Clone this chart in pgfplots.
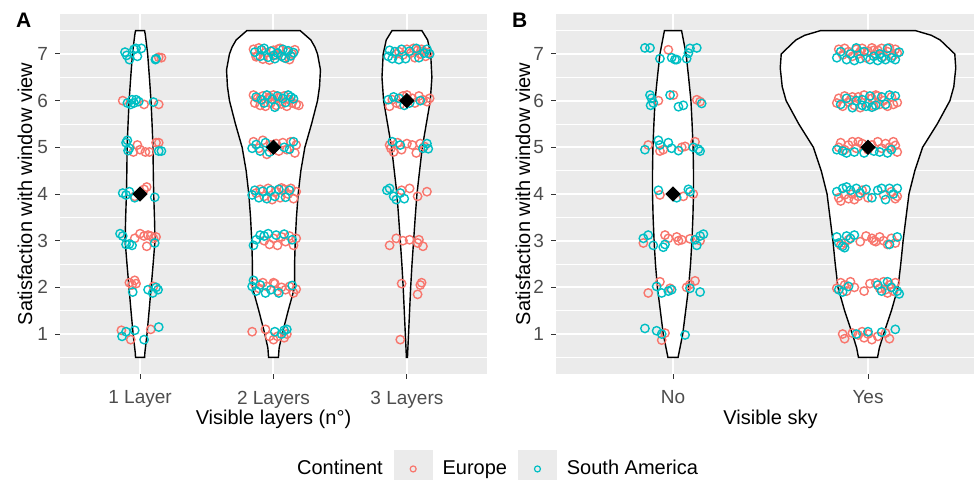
\documentclass[border=0pt]{standalone}
\usepackage{fontspec}
\setmainfont{Liberation Sans}
\usepackage{pgfplots}
\pgfplotsset{compat=1.18}
\definecolor{ggbg}{HTML}{EBEBEB}
\definecolor{eur}{HTML}{F8766D}
\definecolor{sam}{HTML}{00BFC4}
\definecolor{ticklab}{HTML}{4D4D4D}
\definecolor{tickcol}{HTML}{333333}
\pgfplotsset{
  gg/.style={
    scale only axis, height=179.7pt,
    ymin=0.15, ymax=7.85, ytick={1,2,3,4,5,6,7},
    minor ytick={0.5,1.5,2.5,3.5,4.5,5.5,6.5,7.5},
    axis background/.style={fill=ggbg},
    axis line style={draw=none},
    xmajorgrids, ymajorgrids, yminorgrids,
    major grid style={white, line width=1pt},
    minor grid style={white, line width=0.5pt},
    tick pos=left, tick align=outside,
    major tick length=2.5pt, minor tick length=0pt,
    tick style={tickcol, line width=0.5pt},
    /pgf/number format/assume math mode=true,
    ticklabel style={font=\fontsize{9.5}{11}\selectfont, text=ticklab},
    xticklabel style={yshift=-2.5pt},
    label style={font=\fontsize{10}{12}\selectfont},
    ylabel={Satisfaction with window view},
    xlabel style={at={(axis description cs:0.5,0)}, anchor=base, yshift=-25.5pt},
  },
  violin/.style={draw=black, fill=white, line width=0.7pt},
  pe/.style={only marks, mark=o, mark size=2.1pt, mark options={eur, line width=0.7pt}},
  ps/.style={only marks, mark=o, mark size=2.1pt, mark options={sam, line width=0.7pt}},
  med/.style={only marks, mark=square*, mark size=2.5pt, mark options={black, rotate=45}},
}
\begin{document}
\begin{tikzpicture}
\path[use as bounding box, clip] (0,0) rectangle (487pt,239.5pt);
% ---------------- Panel A ----------------
\begin{axis}[gg, at={(30pt,52.65pt)}, anchor=south west, width=213.5pt,
  xmin=0.4, xmax=3.6, xtick={1,2,3}, xticklabels={1 Layer,2 Layers,3 Layers},
  xlabel={Visible layers (n°)},
  ylabel style={at={(axis description cs:-0.082,0.5)}, anchor=center},
  legend columns=-1,
  legend style={at={(axis description cs:0.517,-0.265)}, anchor=west, draw=none, fill=none,
    font=\fontsize{10}{12}\selectfont, nodes={inner sep=0pt},
    /tikz/every even column/.append style={column sep=5.5pt},
    /tikz/every odd column/.append style={column sep=5pt}},
  legend cell align=left]
\addlegendimage{empty legend}
\addlegendentry{Continent}
\addlegendimage{legend image code/.code={\fill[ggbg] (0pt,-9.5pt) rectangle (19pt,9.5pt); \draw[eur,line width=0.6pt] (9.5pt,0pt) circle (1.5pt);}}
\addlegendentry{Europe}
\addlegendimage{legend image code/.code={\fill[ggbg] (0pt,-9.5pt) rectangle (19pt,9.5pt); \draw[sam,line width=0.6pt] (9.5pt,0pt) circle (1.5pt);}}
\addlegendentry{South America}
% violins
\addplot[violin, forget plot] coordinates {(1.034,0.5) (1.036,0.6) (1.052,1) (1.068,1.5) (1.083,2) (1.098,2.5) (1.112,3) (1.108,3.5) (1.102,4) (1.099,4.5) (1.097,5) (1.09,5.5) (1.082,6) (1.07,6.5) (1.057,7) (1.04,7.4) (1.034,7.5)
 (0.966,7.5) (0.96,7.4) (0.943,7) (0.93,6.5) (0.918,6) (0.91,5.5) (0.903,5) (0.901,4.5) (0.898,4) (0.892,3.5) (0.888,3) (0.902,2.5) (0.917,2) (0.932,1.5) (0.948,1) (0.964,0.6) (0.966,0.5)} -- cycle;
\addplot[violin, forget plot] coordinates {(2.037,0.5) (2.042,0.7) (2.065,1) (2.11,1.5) (2.158,2) (2.158,2.5) (2.163,3) (2.172,3.5) (2.185,4) (2.205,4.5) (2.235,5) (2.285,5.5) (2.33,6) (2.345,6.3) (2.352,6.66) (2.33,7) (2.31,7.15) (2.28,7.3) (2.2,7.5)
 (1.8,7.5) (1.72,7.3) (1.69,7.15) (1.67,7) (1.648,6.66) (1.655,6.3) (1.67,6) (1.715,5.5) (1.765,5) (1.795,4.5) (1.815,4) (1.828,3.5) (1.837,3) (1.842,2.5) (1.842,2) (1.89,1.5) (1.935,1) (1.958,0.7) (1.963,0.5)} -- cycle;
\addplot[violin, forget plot] coordinates {(3.004,0.5) (3.012,1) (3.02,1.5) (3.028,2) (3.038,2.5) (3.05,3) (3.062,3.5) (3.075,4) (3.095,4.5) (3.115,5) (3.145,5.5) (3.175,6) (3.187,6.5) (3.178,7) (3.155,7.3) (3.112,7.5)
 (2.888,7.5) (2.845,7.3) (2.822,7) (2.813,6.5) (2.825,6) (2.855,5.5) (2.885,5) (2.905,4.5) (2.925,4) (2.938,3.5) (2.95,3) (2.962,2.5) (2.972,2) (2.98,1.5) (2.988,1) (2.996,0.5)} -- cycle;
% Europe
\addplot[pe, forget plot] coordinates {
(1.14,6.93) (1.16,6.92)
(0.87,6.0) (1.03,5.92) (1.14,5.92)
(0.95,4.9) (0.98,5.05) (1.0,4.95) (1.04,4.9) (1.07,4.9) (1.12,5.1) (1.14,5.1)
(0.96,3.95) (1.03,4.1) (1.05,4.15)
(0.96,3.05) (1.0,3.15) (1.03,3.1) (1.05,2.88) (1.06,3.12) (1.08,3.1) (1.10,3.05) (1.12,3.08)
(0.92,2.1) (0.94,2.05) (0.96,2.15) (0.97,2.08) (1.10,2.02)
(0.86,1.08) (0.93,0.88) (1.08,1.1)
(1.85,7.10) (1.87,6.94) (1.89,7.13) (1.92,6.89) (1.94,7.03) (1.97,6.87) (2.00,7.08) (2.02,6.98) (2.05,7.12) (2.08,6.92) (2.10,7.05) (2.12,6.88) (2.14,7.00) (2.16,7.09) (1.88,6.96) (2.04,7.11)
(1.85,6.12) (1.86,5.95) (1.88,6.05) (1.90,5.9) (1.92,6.1) (1.94,5.88) (1.96,6.04) (1.98,5.95) (2.00,6.12) (2.02,5.9) (2.04,6.06) (2.06,5.93) (2.08,6.1) (2.10,5.88) (2.12,6.02) (2.14,5.95) (2.17,5.92) (2.19,5.9) (1.97,6.08) (2.05,5.98)
(1.85,5.12) (1.89,4.98) (1.92,5.15) (1.95,4.85) (1.98,5.05) (2.04,4.92) (2.07,5.1) (2.10,4.95) (2.13,5.12) (2.16,4.88) (2.17,5.05) (2.02,5.08)
(1.87,4.02) (1.90,4.1) (1.93,3.95) (1.96,4.12) (1.99,3.88) (2.02,4.05) (2.05,3.92) (2.08,4.1) (2.11,4.0) (2.13,4.12) (2.15,3.9) (2.17,4.05) (2.06,4.13)
(1.93,3.0) (1.97,2.92) (2.00,3.05) (2.03,2.9) (2.06,3.08) (2.09,2.98) (2.12,3.1) (2.15,2.9) (2.17,3.05)
(1.86,2.08) (1.89,1.98) (1.92,2.1) (1.95,2.02) (2.00,2.1) (2.03,1.92) (2.06,2.0) (2.09,1.95) (2.12,2.02) (2.15,1.88) (2.17,1.96) (2.01,2.08)
(1.84,1.05) (1.94,1.1) (1.97,0.95) (2.00,0.88) (2.03,0.95) (2.08,0.92) (2.10,1.0)
(2.94,7.05) (2.97,6.98) (3.00,7.1) (3.03,7.02) (3.06,6.92) (3.08,7.08) (3.10,7.0) (3.12,7.06) (3.14,6.95) (3.16,7.03) (3.05,7.12) (2.92,7.0) (3.11,7.1)
(2.87,5.88) (2.89,6.02) (2.92,5.95) (2.97,6.1) (3.00,6.12) (3.04,6.05) (3.06,5.95) (3.09,6.1) (3.12,6.02) (3.15,5.98) (3.17,6.05) (2.95,5.92)
(2.87,5.05) (2.88,4.98) (2.90,4.9) (2.93,5.1) (2.96,4.95) (3.00,5.08) (3.04,5.05) (3.07,4.88) (3.10,5.08) (3.13,5.02)
(2.96,4.08) (3.02,4.12) (3.08,3.95) (3.15,4.05)
(2.87,2.9) (2.92,3.05) (2.97,3.0) (3.02,3.02) (3.08,2.95) (3.09,3.02) (3.12,2.88)
(2.96,2.08) (3.1,2.05) (3.11,2.1) (3.08,1.85)
(2.95,0.88)};
% South America
\addplot[ps, forget plot] coordinates {
(0.887,7.04) (0.90,6.97) (0.92,6.88) (0.955,7.1) (0.97,7.12) (0.98,6.95) (1.01,7.12) (1.12,6.9) (1.115,6.88)
(0.905,5.95) (0.94,6.02) (0.955,5.95) (0.97,6.02) (0.99,5.98) (1.10,5.97) (0.93,5.92)
(0.895,5.1) (0.905,5.15) (0.92,4.98) (0.91,4.93) (1.14,4.92) (1.16,4.92)
(0.87,4.02) (0.895,3.98) (0.92,4.05) (0.96,3.92) (1.11,3.93)
(0.85,3.15) (0.87,3.1) (0.895,2.92) (0.92,2.93) (0.94,2.9) (1.11,2.95)
(0.945,1.9) (1.06,1.95) (1.095,1.88) (1.12,2.0) (1.135,1.95)
(0.865,0.95) (0.895,1.05) (0.96,1.08) (1.03,0.88) (1.14,1.15)
(1.86,7.04) (1.90,6.95) (1.93,7.12) (1.96,6.93) (1.98,7.06) (2.01,6.9) (2.03,7.02) (2.06,6.95) (2.07,7.1) (2.09,6.91) (2.11,7.07) (2.13,6.96) (2.15,7.03) (1.91,7.09) (2.00,6.97)
(1.87,6.08) (1.91,6.02) (1.95,6.12) (1.99,6.03) (2.03,6.1) (2.07,6.05) (2.09,5.96) (2.11,6.12) (2.13,6.08) (2.01,5.86) (1.93,5.95) (2.15,6.04)
(1.84,4.98) (1.87,5.06) (1.90,4.92) (1.94,5.1) (1.97,4.9) (2.08,5.0) (2.12,4.96) (2.15,5.12)
(1.84,3.98) (1.86,4.08) (1.89,3.92) (1.92,4.06) (1.95,3.9) (1.98,4.08) (2.01,3.95) (2.04,4.1) (2.09,3.93) (2.12,4.08)
(1.85,2.9) (1.87,3.02) (1.90,3.12) (1.93,3.1) (1.96,3.15) (2.02,3.12) (2.08,3.14) (2.14,3.02)
(1.84,2.02) (1.85,2.15) (1.87,1.92) (1.90,2.05) (1.94,1.88) (1.98,1.95) (2.04,1.88) (2.14,2.04)
(2.01,1.05) (2.06,1.0) (2.08,1.08) (2.10,1.1)
(2.86,6.95) (2.87,7.08) (2.89,6.9) (2.91,7.05) (2.94,6.88) (2.96,7.1) (2.99,6.9) (3.02,7.06) (3.07,7.12) (3.09,6.92) (3.13,7.02) (3.15,7.1) (3.17,7.0)
(2.86,6.02) (2.90,6.08) (2.94,6.05) (2.98,5.9) (3.02,5.95) (3.10,6.0)
(2.89,5.12) (2.95,5.05) (3.12,4.98) (3.15,5.08) (3.16,4.97)
(2.85,4.08) (2.87,4.12) (2.90,3.95) (2.92,3.88) (2.95,4.02) (2.98,3.9)};
\addplot[med, forget plot] coordinates {(1,4) (2,5) (3,6)};
\end{axis}
\node[anchor=west, font=\bfseries\fontsize{10.5}{12}\selectfont] at (4.5pt,229.5pt) {A};
% ---------------- Panel B ----------------
\begin{axis}[gg, at={(278pt,52.65pt)}, anchor=south west, width=214.5pt,
  xmin=0.4, xmax=2.6, xtick={1,2}, xticklabels={No,Yes},
  xlabel={Visible sky},
  ylabel style={at={(axis description cs:-0.077,0.5)}, anchor=center}]
\addplot[violin] coordinates {(1.026,0.5) (1.05,1) (1.065,1.5) (1.08,2) (1.09,2.5) (1.097,3) (1.102,3.5) (1.105,4) (1.105,4.5) (1.103,5) (1.098,5.5) (1.092,6) (1.08,6.5) (1.067,7) (1.044,7.5)
 (0.956,7.5) (0.933,7) (0.92,6.5) (0.908,6) (0.902,5.5) (0.897,5) (0.895,4.5) (0.895,4) (0.898,3.5) (0.903,3) (0.91,2.5) (0.92,2) (0.935,1.5) (0.95,1) (0.974,0.5)} -- cycle;
\addplot[violin] coordinates {(2.049,0.5) (2.058,0.7) (2.08,1) (2.12,1.5) (2.154,2) (2.168,2.5) (2.18,3) (2.195,3.5) (2.21,4) (2.24,4.5) (2.28,5) (2.355,5.5) (2.42,6) (2.44,6.3) (2.45,6.7) (2.445,7) (2.37,7.3) (2.325,7.4) (2.244,7.5)
 (1.756,7.5) (1.675,7.4) (1.63,7.3) (1.555,7) (1.55,6.7) (1.56,6.3) (1.58,6) (1.645,5.5) (1.72,5) (1.76,4.5) (1.79,4) (1.805,3.5) (1.82,3) (1.832,2.5) (1.846,2) (1.88,1.5) (1.92,1) (1.942,0.7) (1.951,0.5)} -- cycle;
% Europe
\addplot[pe] coordinates {
(0.976,7.09)
(0.925,6.0) (1.002,6.12) (1.122,6.02) (1.139,5.98)
(0.873,5.05) (0.933,4.92) (0.95,4.95) (1.045,5.0) (1.062,5.02) (1.113,5.12)
(0.933,3.98) (1.053,3.95) (1.104,4.0)
(0.848,2.95) (0.959,3.12) (0.976,3.05) (1.019,3.08) (1.028,3.0) (1.045,3.02) (1.087,3.04) (1.139,3.0)
(0.873,1.88) (0.933,2.12) (0.985,1.98) (1.07,2.0) (1.087,2.06) (1.113,2.14)
(0.942,0.87) (0.959,1.02)
(1.85,7.10) (1.87,6.98) (1.88,7.12) (1.90,7.05) (1.92,6.95) (1.94,7.10) (1.95,7.0) (1.97,7.12) (1.99,6.92) (2.00,7.06) (2.02,7.13) (2.04,6.98) (2.05,7.08) (2.07,7.12) (2.08,6.95) (2.10,7.05) (2.11,7.13) (2.13,6.97) (2.14,7.1) (2.15,7.02) (1.96,7.05) (2.03,7.08)
(1.84,5.95) (1.85,6.05) (1.87,5.88) (1.88,6.1) (1.90,5.97) (1.91,6.02) (1.93,5.9) (1.95,6.08) (1.96,5.85) (1.98,6.12) (2.00,5.95) (2.02,6.05) (2.03,5.88) (2.05,6.1) (2.06,5.92) (2.08,6.0) (2.10,5.88) (2.12,6.08) (2.13,5.92) (2.15,5.96) (1.92,6.08) (2.04,6.12)
(1.85,5.0) (1.86,5.1) (1.88,4.95) (1.90,5.05) (1.92,5.12) (1.94,4.98) (1.97,5.08) (2.00,4.95) (2.02,5.05) (2.05,5.12) (2.07,4.98) (2.09,5.08) (2.11,5.0) (2.13,5.12) (2.15,4.9) (2.14,5.04) (1.95,5.12)
(1.85,3.92) (1.86,3.85) (1.88,3.98) (1.90,3.9) (1.92,4.0) (1.95,3.95) (1.97,4.08) (2.00,3.92) (2.08,3.98) (2.12,4.05) (2.14,3.9) (2.15,3.95) (1.93,3.88)
(1.86,2.9) (1.88,2.95) (1.90,3.02) (1.96,2.98) (1.99,3.1) (2.02,3.05) (2.04,2.98) (2.06,3.08) (2.08,3.0) (2.10,2.92) (2.12,3.05) (2.14,2.95) (2.03,3.0)
(1.84,1.98) (1.86,2.1) (1.88,2.05) (1.89,1.92) (1.91,2.12) (1.93,2.0) (1.98,1.92) (2.01,2.08) (2.04,2.1) (2.06,1.98) (2.08,2.12) (2.09,1.95) (2.11,2.05) (2.13,1.92) (2.14,2.1) (2.10,1.88)
(1.87,1.0) (1.88,0.9) (1.92,1.02) (1.95,0.98) (1.97,1.05) (1.98,0.92) (2.00,1.0) (2.02,0.88) (2.05,0.95) (2.09,1.02) (2.11,0.9)};
% South America
\addplot[ps] coordinates {
(0.856,7.13) (0.882,7.13) (0.933,6.9) (0.993,6.92) (1.01,6.88) (1.019,6.88) (1.07,6.9) (1.079,7.02) (1.087,7.12) (1.122,7.13)
(0.882,6.12) (0.89,6.05) (0.899,5.95) (0.885,5.9) (0.985,6.12) (1.028,5.87) (1.053,5.9) (1.147,5.94)
(0.856,4.95) (0.925,5.15) (0.933,5.05) (0.976,5.1) (0.993,4.98) (1.028,4.93) (1.104,5.0) (1.13,4.96) (1.139,4.92)
(0.925,4.08) (1.019,3.92) (1.079,4.1) (1.087,4.05)
(0.848,3.05) (0.873,3.12) (0.899,2.9) (0.95,2.86) (0.959,2.92) (1.113,3.02) (1.122,2.9) (1.139,3.1) (1.156,3.14)
(0.916,2.02) (0.942,1.88) (0.976,1.92) (0.993,1.95) (1.087,1.98) (1.139,1.9)
(0.856,1.12) (0.916,1.07) (0.942,1.0) (1.062,0.98)
(1.84,6.92) (1.86,7.05) (1.89,6.88) (1.91,7.0) (1.93,6.86) (1.96,6.9) (1.98,7.05) (2.01,6.88) (2.03,6.95) (2.05,6.86) (2.06,7.0) (2.09,6.88) (2.10,7.12) (2.12,6.92) (2.14,6.88) (2.16,7.04) (1.94,7.13) (2.07,6.92)
(1.86,5.92) (1.89,6.05) (1.92,5.85) (1.94,6.0) (1.97,6.02) (1.99,5.88) (2.01,6.1) (2.04,5.9) (2.07,6.08) (2.09,5.92) (2.11,6.12) (2.14,6.1) (1.97,5.9) (2.02,5.86)
(1.84,4.95) (1.87,4.92) (1.89,4.88) (1.93,4.9) (1.98,4.88) (2.03,4.92) (2.06,4.9) (2.10,4.88) (2.12,4.95)
(1.84,4.05) (1.87,4.12) (1.89,4.15) (1.91,4.08) (1.94,4.12) (1.96,4.02) (1.99,4.1) (2.02,3.92) (2.05,4.08) (2.07,4.12) (2.09,3.88) (2.11,4.12) (2.13,4.0) (2.15,4.12)
(1.84,3.08) (1.85,2.95) (1.87,2.88) (1.89,3.1) (1.91,3.05) (1.93,3.12) (1.88,2.85) (2.11,2.92) (2.15,3.08)
(1.85,1.95) (1.87,1.9) (1.90,2.02) (2.05,2.05) (2.07,1.92) (2.10,2.12) (2.12,2.0) (2.15,1.92) (2.16,1.86)
(1.94,1.0) (2.0,1.05) (2.07,1.04) (2.14,1.1)};
\addplot[med] coordinates {(1,4) (2,5)};
\end{axis}
\node[anchor=west, font=\bfseries\fontsize{10.5}{12}\selectfont] at (252.5pt,229.5pt) {B};
\end{tikzpicture}
\end{document}
